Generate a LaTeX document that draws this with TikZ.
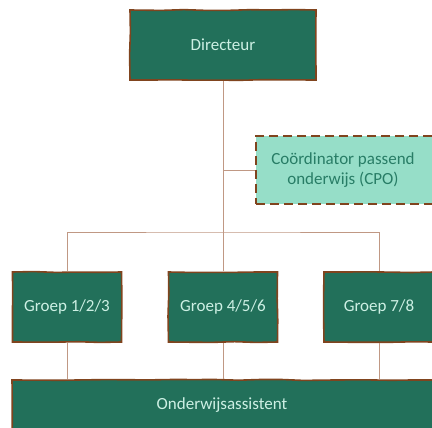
\documentclass[tikz,border=0pt]{standalone}
\usepackage{fontspec}
\setmainfont{Carlito}
\usepackage{xcolor}
\definecolor{bord}{RGB}{128,68,30}
\definecolor{board}{RGB}{34,112,90}
\definecolor{chalk}{RGB}{205,240,228}
\definecolor{mint}{RGB}{150,222,200}
\definecolor{mintink}{RGB}{40,125,102}
\definecolor{wire}{RGB}{192,152,132}
\usetikzlibrary{positioning,decorations.pathmorphing}
\tikzset{
    role/.style={draw=bord, line width=1.6pt, fill=board, text=chalk,
        font=\fontsize{17}{19}\selectfont, inner sep=0pt,
        decorate, decoration={random steps, segment length=22pt, amplitude=0.5pt}},
    support/.style={draw=bord, line width=1.8pt, dash pattern=on 9pt off 5pt,
        fill=mint, text=mintink, align=center,
        font=\fontsize{17}{20}\selectfont, inner sep=0pt},
    link/.style={draw=wire, line width=0.8pt}}

\begin{document}
\begin{tikzpicture}[x=1pt, y=-1pt]
    \clip (0,0) rectangle (432,428);
    \node[role, minimum width=186pt, minimum height=70pt] at (223,45) (dir) {Directeur};
    \node[support, minimum width=180pt, minimum height=68pt] at (346,170) (cpo) {};
    \node[text=mintink, align=center, font=\fontsize{17}{20}\selectfont] at (343,170) (cpolabel)
        {Coördinator passend\\onderwijs (CPO)};
    \node[role, minimum width=109pt, minimum height=70pt] at (67,307) (g1) {Groep 1/2/3};
    \node[role, minimum width=109pt, minimum height=70pt] at (223,307) (g2) {Groep 4/5/6};
    \node[role, minimum width=110pt, minimum height=70pt] at (379,307) (g3) {Groep 7/8};
    \node[role, minimum width=424pt, minimum height=80pt] at (224,420) (oa) {};
    \node[text=chalk, font=\fontsize{17}{19}\selectfont] at (222,405) (oalabel) {Onderwijsassistent};
    \coordinate (bus) at (223,232);
    % lines
    \draw[link] (dir.south) -- (g2.north);
    \draw[link] (cpo.west) -- (cpo.west -| dir.south);
    \draw[link] (g1.north) |- (bus) -| (g3.north);
    \draw[link] (g1.south) -- (g1.south |- oa.north);
    \draw[link] (g2.south) -- (g2.south |- oa.north);
    \draw[link] (g3.south) -- (g3.south |- oa.north);
\end{tikzpicture}
\end{document}
